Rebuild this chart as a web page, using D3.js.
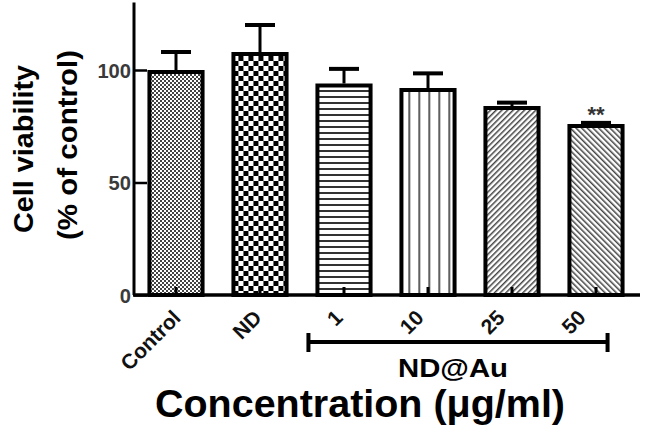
<!DOCTYPE html>
<html lang="en">
<head>
<meta charset="utf-8">
<title>Cell viability</title>
<style>
  body { margin: 0; background: #fff; }
  text { font-family: "Liberation Sans", Arial, sans-serif; font-weight: bold; }
  .frame { stroke: #000; stroke-width: 4px; }
  .axis line, .axis path { stroke: #000; }
</style>
</head>
<body>
<script src="https://d3js.org/d3.v7.min.js"></script>
<script>
  // data
  const groups = ["Control", "ND", "1", "10", "25", "50"];
  const viability = [100, 108, 94, 92, 84, 76];
  const errors = [8, 12, 6.5, 6.5, 1.5, 0.5];
  const fills = ["fineCheck", "bigCheck", "hLines", "vLines", "diagUp", "diagDown"];
  const yTicks = [0, 50, 100];
  const marks = ["", "", "", "", "", "**"];

  const width = 645, height = 434;

  const svg = d3.select("body").append("svg")
    .attr("width", width)
    .attr("height", height);

  const x = d3.scaleBand()
    .domain(groups)
    .range([134, 638])
    .paddingInner(0.32)
    .paddingOuter(0.16);

  // the rotated labels sit on a slightly tighter spacing than the bars
  const xLabel = d3.scalePoint()
    .domain(groups)
    .range([182, 587]);

  const y = d3.scaleLinear()
    .domain([0, 130])
    .range([295, 2.5]);

  // patterns
  const defs = svg.append("defs");

  const p1 = defs.append("pattern").attr("id", "fineCheck")
    .attr("patternUnits", "userSpaceOnUse").attr("width", 4).attr("height", 4);
  p1.append("rect").attr("width", 4).attr("height", 4).attr("fill", "#fff");
  p1.append("rect").attr("width", 2).attr("height", 2).attr("fill", "#444");
  p1.append("rect").attr("x", 2).attr("y", 2).attr("width", 2).attr("height", 2).attr("fill", "#444");

  const p2 = defs.append("pattern").attr("id", "bigCheck")
    .attr("patternUnits", "userSpaceOnUse").attr("width", 10).attr("height", 10)
    .attr("x", x("ND") + 2).attr("y", 1);
  p2.append("rect").attr("width", 10).attr("height", 10).attr("fill", "#fff");
  p2.append("rect").attr("width", 5).attr("height", 5).attr("fill", "#000");
  p2.append("rect").attr("x", 5).attr("y", 5).attr("width", 5).attr("height", 5).attr("fill", "#000");

  const p3 = defs.append("pattern").attr("id", "hLines")
    .attr("patternUnits", "userSpaceOnUse").attr("width", 6).attr("height", 6);
  p3.append("rect").attr("width", 6).attr("height", 6).attr("fill", "#fff");
  p3.append("rect").attr("width", 6).attr("height", 2).attr("fill", "#333");

  const p4 = defs.append("pattern").attr("id", "vLines")
    .attr("patternUnits", "userSpaceOnUse").attr("width", 10).attr("height", 10)
    .attr("x", x("10") + 9);
  p4.append("rect").attr("width", 10).attr("height", 10).attr("fill", "#fff");
  p4.append("rect").attr("width", 1.6).attr("height", 10).attr("fill", "#333");

  const p5 = defs.append("pattern").attr("id", "diagUp")
    .attr("patternUnits", "userSpaceOnUse").attr("width", 4).attr("height", 10)
    .attr("patternTransform", "rotate(45)");
  p5.append("rect").attr("width", 4).attr("height", 10).attr("fill", "#fff");
  p5.append("rect").attr("width", 1.5).attr("height", 10).attr("fill", "#444");

  const p6 = defs.append("pattern").attr("id", "diagDown")
    .attr("patternUnits", "userSpaceOnUse").attr("width", 4).attr("height", 10)
    .attr("patternTransform", "rotate(-45)");
  p6.append("rect").attr("width", 4).attr("height", 10).attr("fill", "#fff");
  p6.append("rect").attr("width", 1.5).attr("height", 10).attr("fill", "#444");

  // error bars (drawn first so bar outline covers stem base)
  const err = svg.append("g");
  groups.forEach(function(g, i) {
    const cx = x(g) + x.bandwidth() / 2;
    err.append("line").attr("class", "frame")
      .attr("x1", cx).attr("x2", cx)
      .attr("y1", y(viability[i])).attr("y2", y(viability[i] + errors[i]))
      .style("stroke-width", "3px");
    err.append("line").attr("class", "frame")
      .attr("x1", cx - 15).attr("x2", cx + 15)
      .attr("y1", y(viability[i] + errors[i])).attr("y2", y(viability[i] + errors[i]));
  });

  // bars
  svg.append("g").selectAll("rect")
    .data(groups)
    .join("rect")
    .attr("class", "frame")
    .attr("x", function(d) { return x(d) + 2; })
    .attr("width", x.bandwidth() - 4)
    .attr("y", function(d, i) { return y(viability[i]) + 2; })
    .attr("height", function(d, i) { return y(0) - y(viability[i]) - 2; })
    .attr("fill", function(d, i) { return "url(#" + fills[i] + ")"; });

  // lower error stems peeking at the base
  svg.append("g").selectAll("line")
    .data(groups)
    .join("line")
    .attr("x1", function(d) { return x(d) + x.bandwidth() / 2; })
    .attr("x2", function(d) { return x(d) + x.bandwidth() / 2; })
    .attr("y1", y(0)).attr("y2", y(0) - 8)
    .attr("stroke", "#000").attr("stroke-width", 3);

  // significance marks
  svg.append("g").selectAll("text")
    .data(groups)
    .join("text")
    .attr("x", function(d) { return x(d) + x.bandwidth() / 2; })
    .attr("y", function(d, i) { return y(viability[i] + errors[i]) - 1; })
    .attr("text-anchor", "middle")
    .attr("font-size", 22)
    .attr("fill", "#333")
    .text(function(d, i) { return marks[i]; });

  // y axis (ticks point inward)
  const yAxis = svg.append("g").attr("class", "axis")
    .attr("transform", "translate(134,0)")
    .call(d3.axisRight(y).tickValues(yTicks).tickSize(13).tickFormat(d3.format("d")));
  yAxis.select(".domain").attr("d", "M0," + y(130) + "V" + y(0)).style("stroke-width", "3px");
  yAxis.selectAll(".tick line").style("stroke-width", "2.5px");
  yAxis.selectAll(".tick text")
    .attr("x", -3).attr("dy", "0.36em")
    .attr("text-anchor", "end")
    .attr("font-size", 20)
    .attr("fill", "#3a3a3a")
    .attr("textLength", function(d) { return String(d).length * 11.2; })
    .attr("lengthAdjust", "spacingAndGlyphs")
    .style("font-family", "'Liberation Sans', Arial, sans-serif");

  // baseline
  svg.append("line")
    .attr("x1", 133).attr("x2", 640)
    .attr("y1", y(0)).attr("y2", y(0))
    .attr("stroke", "#000").attr("stroke-width", 3.5);

  // x tick labels, rotated
  svg.append("g").selectAll("text")
    .data(groups)
    .join("text")
    .attr("transform", function(d) {
      return "translate(" + xLabel(d) + ",319) rotate(-45)";
    })
    .attr("text-anchor", "end")
    .attr("font-size", 21)
    .attr("fill", "#111")
    .text(function(d) { return d; });

  // ND@Au bracket
  const bx0 = x("1") - 7, bx1 = x("50") + x.bandwidth() - 17;
  svg.append("path")
    .attr("d", "M" + bx0 + ",333V352M" + bx0 + ",342H" + bx1 + "M" + bx1 + ",333V352")
    .attr("fill", "none").attr("stroke", "#000").attr("stroke-width", 4);

  svg.append("text")
    .attr("x", 453).attr("y", 377)
    .attr("text-anchor", "middle")
    .attr("font-size", 25)
    .attr("fill", "#000")
    .attr("textLength", 110)
    .attr("lengthAdjust", "spacingAndGlyphs")
    .text("ND@Au");

  // axis titles
  svg.append("text")
    .attr("x", 360).attr("y", 417)
    .attr("text-anchor", "middle")
    .attr("font-size", 38)
    .attr("fill", "#000")
    .attr("textLength", 410)
    .attr("lengthAdjust", "spacingAndGlyphs")
    .text("Concentration (\u03bcg/ml)");

  svg.append("text")
    .attr("transform", "translate(33,149) rotate(-90)")
    .attr("text-anchor", "middle")
    .attr("font-size", 28)
    .attr("fill", "#000")
    .attr("textLength", 168)
    .attr("lengthAdjust", "spacingAndGlyphs")
    .text("Cell viability");

  svg.append("text")
    .attr("transform", "translate(77,145) rotate(-90)")
    .attr("text-anchor", "middle")
    .attr("font-size", 27)
    .attr("fill", "#000")
    .attr("textLength", 190)
    .attr("lengthAdjust", "spacingAndGlyphs")
    .text("(% of control)");
</script>
</body>
</html>
